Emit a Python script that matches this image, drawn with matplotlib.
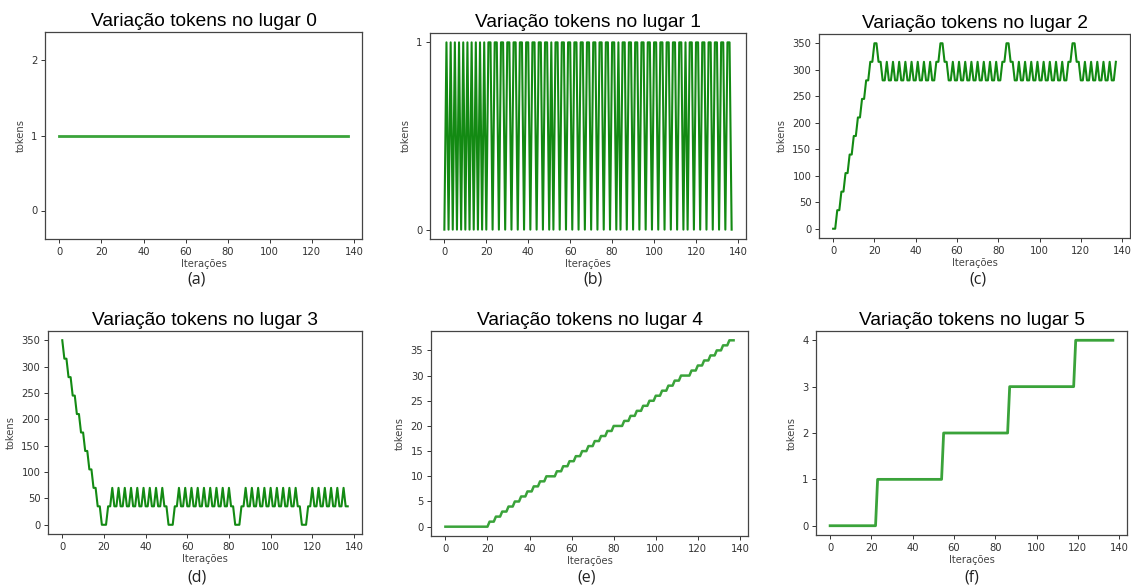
import numpy as np
import matplotlib
matplotlib.use("Agg")
import matplotlib.pyplot as plt

# ---------------- data (tokens per iteration, 138 iterations) ----------------
iterations = list(range(138))

lugar0 = [1] * 138

lugar1 = [0, 1, 0, 1, 0, 1, 0, 1, 0, 1, 0, 1, 0, 1, 0, 1, 0, 1, 0, 1,
          0, 1, 1, 0,
          1, 1, 0, 1, 1, 0, 1, 1, 0, 1, 1, 0, 1, 1, 0, 1, 1, 0, 1, 1, 0,
          1, 1, 0, 1, 1, 0,
          1, 0, 1, 1, 0,
          1, 1, 0, 1, 1, 0, 1, 1, 0, 1, 1, 0, 1, 1, 0, 1, 1, 0, 1, 1, 0,
          1, 1, 0, 1, 1, 0,
          1, 0, 1, 1, 0,
          1, 1, 0, 1, 1, 0, 1, 1, 0, 1, 1, 0, 1, 1, 0, 1, 1, 0, 1, 1, 0,
          1, 1, 0, 1, 1, 0,
          1, 0, 1, 1, 0,
          1, 1, 0, 1, 1, 0, 1, 1, 0, 1, 1, 0, 1, 1, 0, 1, 1, 0]

lugar2 = [0, 0, 35, 35, 70, 70, 105, 105, 140, 140, 175, 175, 210, 210, 245, 245,
          280, 280, 315, 315, 350, 350, 315, 315,
          280, 280, 315, 280, 280, 315, 280, 280, 315, 280, 280, 315, 280, 280, 315,
          280, 280, 315, 280, 280, 315, 280, 280, 315, 280, 280, 315,
          315, 350, 350, 315, 315,
          280, 280, 315, 280, 280, 315, 280, 280, 315, 280, 280, 315, 280, 280, 315,
          280, 280, 315, 280, 280, 315, 280, 280, 315, 280, 280, 315,
          315, 350, 350, 315, 315,
          280, 280, 315, 280, 280, 315, 280, 280, 315, 280, 280, 315, 280, 280, 315,
          280, 280, 315, 280, 280, 315, 280, 280, 315, 280, 280, 315,
          315, 350, 350, 315, 315,
          280, 280, 315, 280, 280, 315, 280, 280, 315, 280, 280, 315, 280, 280, 315,
          280, 280, 315]

lugar3 = [350, 315, 315, 280, 280, 245, 245, 210, 210, 175, 175, 140, 140, 105, 105, 70,
          70, 35, 35, 0, 0, 0, 35, 35,
          70, 35, 35, 70, 35, 35, 70, 35, 35, 70, 35, 35, 70, 35, 35,
          70, 35, 35, 70, 35, 35, 70, 35, 35, 70, 35, 35,
          0, 0, 0, 35, 35,
          70, 35, 35, 70, 35, 35, 70, 35, 35, 70, 35, 35, 70, 35, 35,
          70, 35, 35, 70, 35, 35, 70, 35, 35, 70, 35, 35,
          0, 0, 0, 35, 35,
          70, 35, 35, 70, 35, 35, 70, 35, 35, 70, 35, 35, 70, 35, 35,
          70, 35, 35, 70, 35, 35, 70, 35, 35, 70, 35, 35,
          0, 0, 0, 35, 35,
          70, 35, 35, 70, 35, 35, 70, 35, 35, 70, 35, 35, 70, 35, 35,
          70, 35, 35]

lugar4 = [0, 0, 0, 0, 0, 0, 0, 0, 0, 0, 0, 0, 0, 0, 0, 0, 0, 0, 0, 0, 0,
          1, 1, 1, 2, 2, 2, 3, 3, 3, 4, 4, 4, 5, 5, 5, 6, 6, 6, 7, 7, 7,
          8, 8, 8, 9, 9, 9, 10, 10, 10, 10, 10,
          11, 11, 11, 12, 12, 12, 13, 13, 13, 14, 14, 14, 15, 15, 15, 16, 16, 16,
          17, 17, 17, 18, 18, 18, 19, 19, 19, 20, 20, 20, 20, 20,
          21, 21, 21, 22, 22, 22, 23, 23, 23, 24, 24, 24, 25, 25, 25, 26, 26, 26,
          27, 27, 27, 28, 28, 28, 29, 29, 29, 30, 30, 30, 30, 30,
          31, 31, 31, 32, 32, 32, 33, 33, 33, 34, 34, 34, 35, 35, 35, 36, 36, 36,
          37, 37, 37]

lugar5 = ([0] * 23 + [1] * 32 + [2] * 32 + [3] * 32 + [4] * 19)

series = [lugar0, lugar1, lugar2, lugar3, lugar4, lugar5]
titles = ["Variação tokens no lugar 0", "Variação tokens no lugar 1",
          "Variação tokens no lugar 2", "Variação tokens no lugar 3",
          "Variação tokens no lugar 4", "Variação tokens no lugar 5"]
captions = ["(a)", "(b)", "(c)", "(d)", "(e)", "(f)"]
yticks_list = [[0, 1, 2], [0, 1], list(range(0, 351, 50)), list(range(0, 351, 50)),
               list(range(0, 36, 5)), [0, 1, 2, 3, 4]]
xticks = list(range(0, 141, 20))

# ---------------- layout ----------------
W, H = 1131, 587
fig = plt.figure(figsize=(W / 100, H / 100), dpi=100)
fig.patch.set_facecolor("white")

# pixel boxes: left, top, right, bottom
boxes = [(45, 32, 362, 239), (430, 33, 746, 239), (819, 34, 1130, 238),
         (48, 331, 362, 534), (431, 331, 748, 536), (816, 331, 1127, 535)]
caption_pos = [(197, 280), (593, 280), (978, 280), (197, 577), (587, 577), (972, 577)]
colors = ["#3aa33a", "#138a13", "#138a13", "#138a13", "#3aa33a", "#3aa33a"]
widths = [2.0, 1.5, 1.5, 1.5, 1.8, 2.0]

for i, (data, box) in enumerate(zip(series, boxes)):
    l, t, r, b = box
    ax = fig.add_axes([l / W, 1 - b / H, (r - l) / W, (b - t) / H])
    ax.plot(iterations, data, color=colors[i], linewidth=widths[i])
    if i == 0:
        ax.set_ylim(-0.38, 2.38)
    ax.set_yticks(yticks_list[i])
    ax.set_xticks(xticks)
    ax.tick_params(labelsize=7.2, length=3, width=0.7, colors="#333333", pad=2.5)
    for sp in ax.spines.values():
        sp.set_color("#444444")
        sp.set_linewidth(0.9)
    ax.set_xlabel("Iterações", fontsize=7.2, color="#444444", labelpad=2)
    ax.set_ylabel("tokens", fontsize=7.2, color="#444444", labelpad=4)
    ax.set_title(titles[i], fontsize=13.8, family="Liberation Sans", pad=4)
    cx, cy = caption_pos[i]
    fig.text(cx / W, 1 - cy / H, captions[i], fontsize=11.5, family="Open Sans",
             ha="center", va="center", color="#222222")

fig.savefig("out.png", dpi=100, facecolor="white")
